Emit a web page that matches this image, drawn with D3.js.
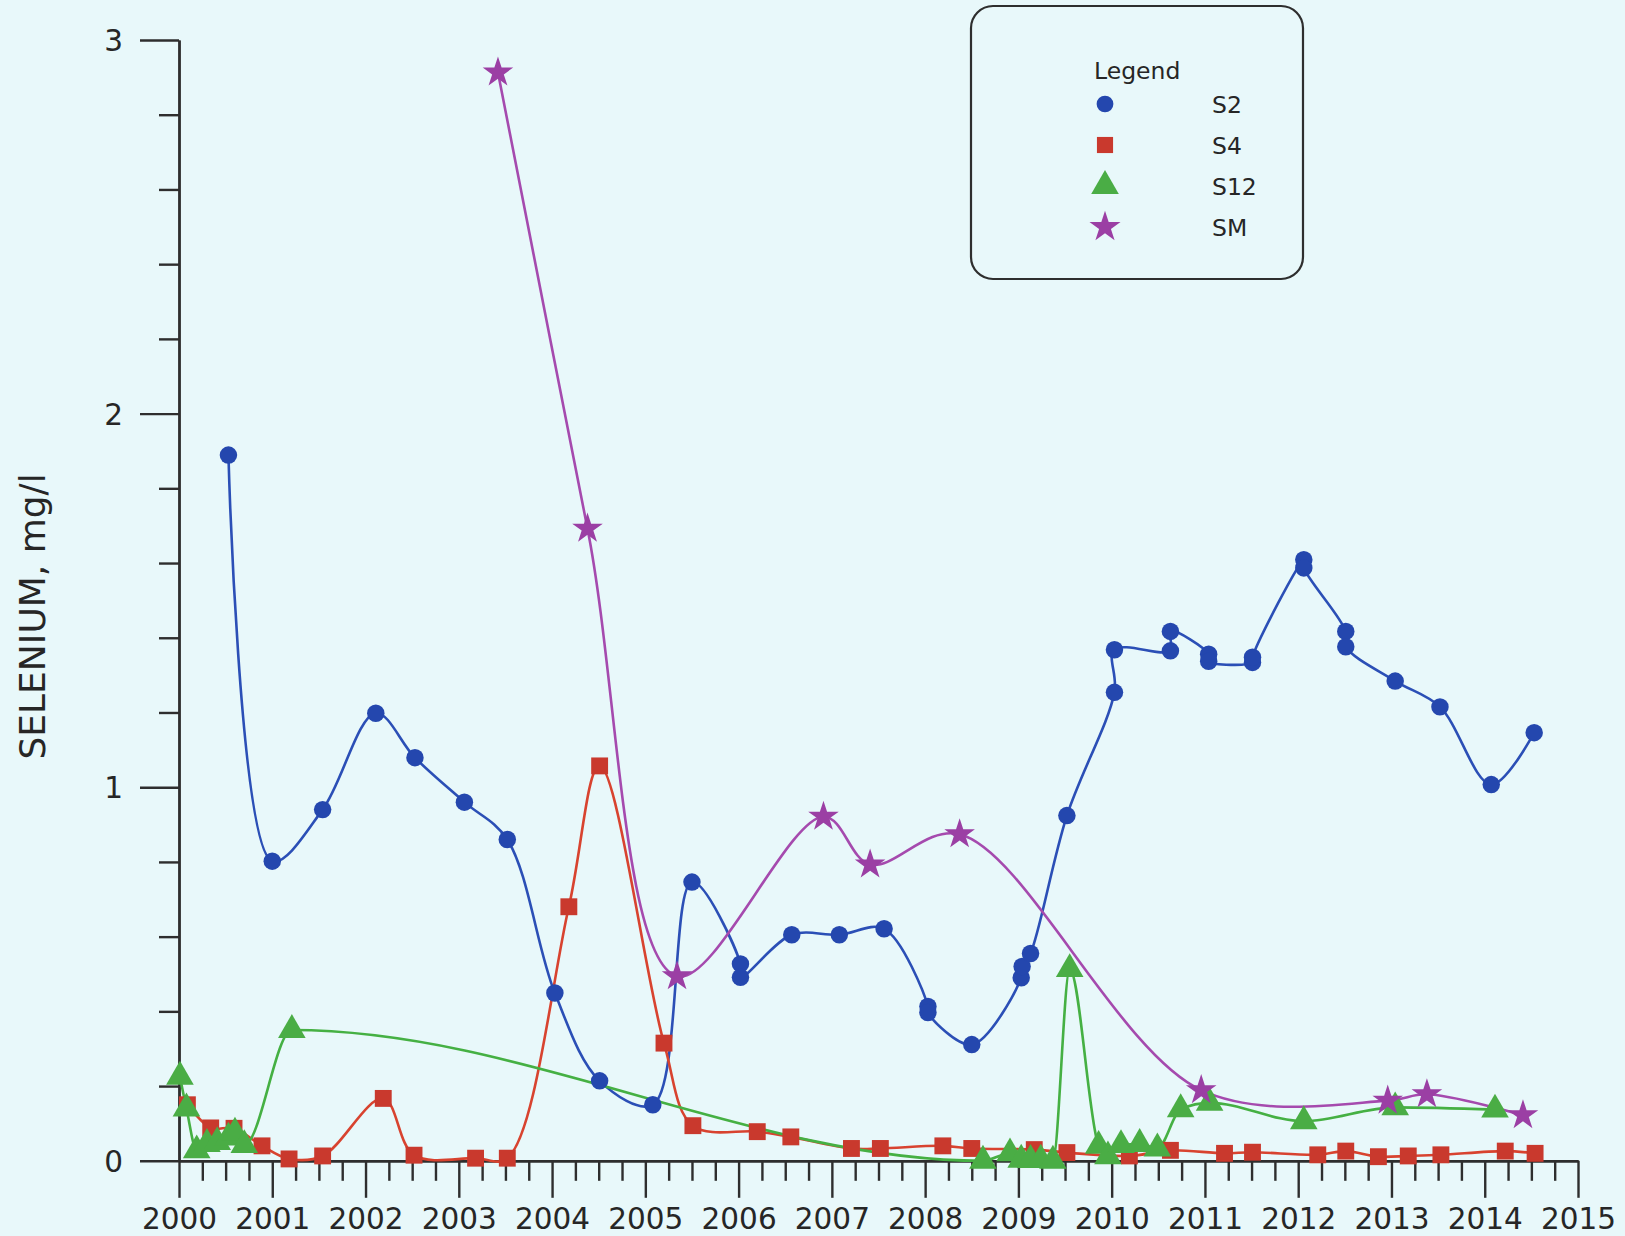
<!DOCTYPE html>
<html>
<head>
<meta charset="utf-8">
<script src="https://cdn.jsdelivr.net/npm/d3@7"></script>
<style>
  html, body { margin: 0; padding: 0; background: #e8f8fa; }
  svg { display: block; }
  text { font-family: "DejaVu Sans", Verdana, sans-serif; fill: #262626; }
</style>
</head>
<body>
<svg id="chart" width="1625" height="1236"></svg>
<script>
// ---------- DATA ----------
const xTickYears = [2000, 2001, 2002, 2003, 2004, 2005, 2006, 2007, 2008, 2009, 2010, 2011, 2012, 2013, 2014, 2015];
const yTickValues = [0, 1, 2, 3];

const s2Years  = [2000.53, 2001.00, 2001.54, 2002.11, 2002.53, 2003.06, 2003.52, 2004.03, 2004.51, 2005.08,
                  2005.50, 2006.02, 2006.02, 2006.57, 2007.08, 2007.56, 2008.03, 2008.03, 2008.50, 2009.03,
                  2009.04, 2009.13, 2009.52, 2010.03, 2010.03, 2010.63, 2010.63, 2011.04, 2011.04, 2011.51,
                  2011.51, 2012.06, 2012.06, 2012.51, 2012.51, 2013.04, 2013.52, 2014.07, 2014.53];
const s2Values = [1.889, 0.802, 0.940, 1.198, 1.079, 0.960, 0.860, 0.449, 0.214, 0.150,
                  0.746, 0.527, 0.491, 0.605, 0.605, 0.621, 0.413, 0.397, 0.311, 0.490,
                  0.520, 0.555, 0.924, 1.254, 1.368, 1.365, 1.417, 1.356, 1.337, 1.334,
                  1.348, 1.609, 1.587, 1.417, 1.376, 1.284, 1.215, 1.007, 1.146];

const s4Years  = [2000.09, 2000.34, 2000.59, 2000.89, 2001.18, 2001.54, 2002.19, 2002.52, 2003.18, 2003.52,
                  2004.18, 2004.51, 2005.20, 2005.51, 2006.20, 2006.56, 2007.21, 2007.52, 2008.19, 2008.50,
                  2009.17, 2009.52, 2010.19, 2010.63, 2011.21, 2011.51, 2012.21, 2012.51, 2012.86, 2013.18,
                  2013.53, 2014.22, 2014.54];
const s4Values = [0.150, 0.088, 0.087, 0.040, 0.005, 0.013, 0.167, 0.015, 0.007, 0.007,
                  0.680, 1.057, 0.315, 0.094, 0.078, 0.064, 0.033, 0.033, 0.040, 0.033,
                  0.030, 0.022, 0.013, 0.028, 0.020, 0.023, 0.016, 0.026, 0.011, 0.013,
                  0.016, 0.026, 0.020];

const s12Years  = [2000.01, 2000.08, 2000.19, 2000.30, 2000.41, 2000.53, 2000.60, 2000.70, 2001.21, 2008.62,
                   2008.91, 2009.03, 2009.13, 2009.24, 2009.37, 2009.55, 2009.86, 2009.96, 2010.10, 2010.30,
                   2010.49, 2010.74, 2011.05, 2012.06, 2013.04, 2014.11];
const s12Values = [0.225, 0.140, 0.028, 0.045, 0.050, 0.062, 0.075, 0.042, 0.350, 0.000,
                   0.020, 0.003, 0.002, 0.003, 0.000, 0.513, 0.040, 0.012, 0.042, 0.045,
                   0.033, 0.138, 0.155, 0.106, 0.143, 0.137];

const smYears  = [2003.42, 2004.38, 2005.34, 2006.91, 2007.41, 2008.37, 2010.96, 2012.96, 2013.38, 2014.41];
const smValues = [2.913, 1.692, 0.494, 0.921, 0.793, 0.874, 0.189, 0.161, 0.178, 0.122];

const seriesNames = ["S2", "S4", "S12", "SM"];
const yAxisTitle = "SELENIUM, mg/l";
const legendTitle = "Legend";

// ---------- STYLE ----------
const styles = {
  S2:  { line: "#2b4fb6", fill: "#2447ae", symbol: d3.symbolCircle,   size: 240, curve: d3.curveCatmullRom.alpha(0.5) },
  S4:  { line: "#d8432f", fill: "#c9392d", symbol: d3.symbolSquare,   size: 285, curve: d3.curveCatmullRom.alpha(0.5) },
  S12: { line: "#45b043", fill: "#4aad45", symbol: d3.symbolTriangle, size: 330, curve: d3.curveMonotoneX },
  SM:  { line: "#a54aae", fill: "#9b3fa4", symbol: d3.symbolStar,     size: 290, curve: d3.curveCatmullRom.alpha(0.5) }
};

const series = [
  { name: "S2",  years: s2Years,  values: s2Values },
  { name: "S4",  years: s4Years,  values: s4Values },
  { name: "S12", years: s12Years, values: s12Values },
  { name: "SM",  years: smYears,  values: smValues }
];

const svg = d3.select("#chart");
svg.append("rect").attr("width", 1625).attr("height", 1236).attr("fill", "#e8f8fa");

const x = d3.scaleLinear().domain([2000, 2015]).range([179, 1578]);
const y = d3.scaleLinear().domain([0, 3]).range([1160.8, 40]);

const axisColor = "#2e2e2e";

// minor ticks
const xMinor = d3.range(2000, 2015.001, 0.25).filter(v => Math.abs(v - Math.round(v)) > 1e-6);
const yMinor = d3.range(0, 3.001, 0.2).filter(v => Math.abs(v - Math.round(v)) > 1e-6);

const gxMinor = svg.append("g").attr("transform", `translate(0,${y(0)})`)
  .call(d3.axisBottom(x).tickValues(xMinor).tickSize(20).tickSizeOuter(0).tickFormat(""));
const gx = svg.append("g").attr("transform", `translate(0,${y(0)})`)
  .call(d3.axisBottom(x).tickValues(xTickYears).tickSize(37).tickSizeOuter(0).tickPadding(10).tickFormat(d3.format("d")));
const gyMinor = svg.append("g").attr("transform", `translate(${x(2000)},0)`)
  .call(d3.axisLeft(y).tickValues(yMinor).tickSize(20).tickSizeOuter(0).tickFormat(""));
const gy = svg.append("g").attr("transform", `translate(${x(2000)},0)`)
  .call(d3.axisLeft(y).tickValues(yTickValues).tickSize(39).tickSizeOuter(0).tickPadding(17).tickFormat(d3.format("d")));

[gxMinor, gx, gyMinor, gy].forEach(g => {
  g.selectAll("path.domain").attr("stroke", axisColor).attr("stroke-width", 2.4);
  g.selectAll(".tick line").attr("stroke", axisColor).attr("stroke-width", 2.4);
  g.selectAll(".tick text").attr("font-size", 29.5).attr("fill", "#262626")
    .style("font-family", "'DejaVu Sans', Verdana, sans-serif");
});
gy.selectAll(".tick text").attr("dy", "0.36em");

// y-axis title
svg.append("text")
  .attr("transform", `translate(45,${(y(0) + y(3)) / 2 + 16}) rotate(-90)`)
  .attr("text-anchor", "middle")
  .attr("font-size", 36)
  .text(yAxisTitle);

// lines
series.forEach(s => {
  const st = styles[s.name];
  const line = d3.line()
    .x((d) => x(d[0]))
    .y((d) => y(d[1]))
    .curve(st.curve);
  const pts = s.years.map((yr, i) => [yr, s.values[i]]);
  svg.append("path")
    .datum(pts)
    .attr("d", line)
    .attr("fill", "none")
    .attr("stroke", st.line)
    .attr("stroke-width", 2.6);
});

// markers
series.forEach(s => {
  const st = styles[s.name];
  const sym = d3.symbol().type(st.symbol).size(st.size);
  svg.append("g").selectAll("path")
    .data(s.years.map((yr, i) => [yr, s.values[i]]))
    .join("path")
    .attr("transform", d => `translate(${x(d[0])},${y(d[1])})`)
    .attr("d", sym)
    .attr("fill", st.fill);
});

// legend
const lg = svg.append("g");
lg.append("rect")
  .attr("x", 971).attr("y", 6).attr("width", 332).attr("height", 273)
  .attr("rx", 22).attr("ry", 22)
  .attr("fill", "none").attr("stroke", "#2e2e2e").attr("stroke-width", 2.2);
lg.append("text").attr("x", 1094).attr("y", 79).attr("font-size", 23.5).text(legendTitle);
const legendRows = [104, 145, 186, 227];
const legendSizes = { S2: 220, S4: 260, S12: 330, SM: 300 };
seriesNames.forEach((name, i) => {
  const st = styles[name];
  lg.append("path")
    .attr("transform", `translate(1105,${legendRows[i]})`)
    .attr("d", d3.symbol().type(st.symbol).size(legendSizes[name])())
    .attr("fill", st.fill);
  lg.append("text")
    .attr("x", 1212).attr("y", legendRows[i] + 9)
    .attr("font-size", 23.5)
    .text(name);
});
</script>
</body>
</html>
